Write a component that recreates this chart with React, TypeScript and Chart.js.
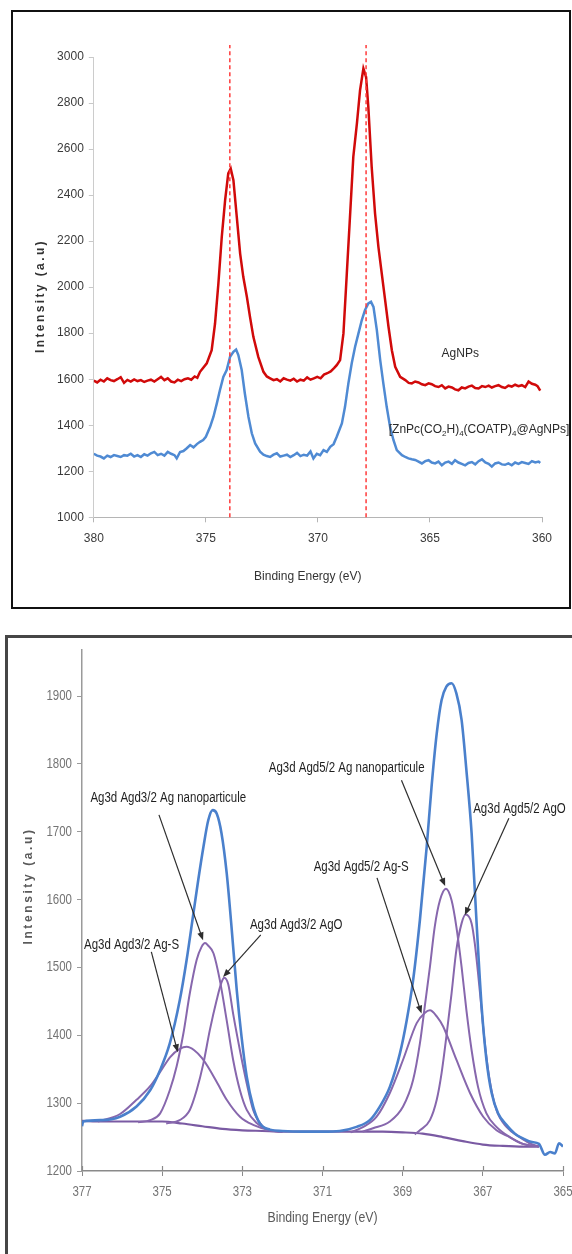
import React, { useEffect, useRef } from "react";
import { Chart, registerables } from "chart.js";

Chart.register(...registerables);

const FONT_TOP = "'Liberation Sans', Arial, sans-serif";
const FONT_BOT = "'Liberation Sans', Arial, sans-serif";
const NARROW = 0.82;

// ---------- Top panel: survey of Ag 3d region ----------
const topXTicks = [360, 365, 370, 375, 380];
const topYTicks = [1000, 1200, 1400, 1600, 1800, 2000, 2200, 2400, 2600, 2800, 3000];
const peakLines = [373.93, 367.85];

// [binding energy (eV), intensity (a.u)]
const agnpsSpectrum: [number, number][] = [
  [380.0, 1594], [379.85, 1586], [379.7, 1598], [379.55, 1590], [379.4, 1604], [379.25, 1596],
  [379.1, 1592], [378.95, 1600], [378.8, 1609], [378.65, 1584], [378.5, 1597], [378.35, 1590],
  [378.2, 1599], [378.05, 1592], [377.9, 1596], [377.75, 1588], [377.6, 1594], [377.45, 1598],
  [377.3, 1590], [377.15, 1600], [377.0, 1610], [376.85, 1596], [376.7, 1604], [376.55, 1590],
  [376.4, 1586], [376.25, 1598], [376.1, 1592], [375.95, 1600], [375.8, 1604], [375.65, 1598],
  [375.5, 1612], [375.38, 1606], [375.26, 1632], [374.96, 1669], [374.74, 1726], [374.59, 1842],
  [374.44, 2016], [374.29, 2218], [374.14, 2378], [374.0, 2494], [373.89, 2515], [373.77, 2465],
  [373.62, 2305], [373.47, 2146], [373.33, 2045], [373.17, 1958], [373.03, 1871], [372.88, 1784],
  [372.66, 1697], [372.43, 1632], [372.28, 1612], [372.13, 1604], [371.98, 1596], [371.83, 1600],
  [371.68, 1590], [371.53, 1604], [371.38, 1598], [371.23, 1594], [371.08, 1602], [370.93, 1590],
  [370.78, 1598], [370.63, 1594], [370.48, 1608], [370.33, 1598], [370.18, 1604], [370.03, 1610],
  [369.88, 1604], [369.73, 1620], [369.58, 1626], [369.43, 1634], [369.28, 1648], [369.16, 1661],
  [369.01, 1683], [368.86, 1799], [368.71, 2059], [368.56, 2320], [368.42, 2566], [368.26, 2711],
  [368.12, 2855], [367.97, 2950], [367.85, 2913], [367.75, 2783], [367.6, 2522], [367.45, 2320],
  [367.3, 2175], [367.15, 2059], [367.0, 1944], [366.85, 1828], [366.7, 1726], [366.55, 1654],
  [366.33, 1610], [366.1, 1596], [365.95, 1584], [365.81, 1582], [365.66, 1590], [365.51, 1586],
  [365.36, 1578], [365.21, 1574], [365.06, 1582], [364.92, 1578], [364.77, 1570], [364.62, 1566],
  [364.47, 1574], [364.32, 1560], [364.17, 1568], [364.02, 1564], [363.88, 1556], [363.73, 1552],
  [363.58, 1564], [363.43, 1560], [363.28, 1568], [363.13, 1572], [362.98, 1562], [362.83, 1560],
  [362.68, 1570], [362.53, 1566], [362.38, 1572], [362.24, 1564], [362.09, 1570], [361.94, 1574],
  [361.79, 1566], [361.65, 1562], [361.5, 1572], [361.35, 1568], [361.2, 1576], [361.05, 1570],
  [360.9, 1574], [360.75, 1566], [360.6, 1590], [360.45, 1580], [360.3, 1576], [360.2, 1570],
  [360.08, 1550],
];

const conjugateSpectrum: [number, number][] = [
  [380.0, 1276], [379.85, 1268], [379.7, 1264], [379.55, 1256], [379.4, 1268], [379.25, 1262],
  [379.1, 1270], [378.95, 1266], [378.8, 1262], [378.65, 1270], [378.5, 1268], [378.35, 1276],
  [378.2, 1264], [378.05, 1270], [377.9, 1262], [377.75, 1274], [377.6, 1268], [377.45, 1278],
  [377.3, 1284], [377.15, 1270], [377.0, 1276], [376.85, 1268], [376.7, 1284], [376.55, 1276],
  [376.4, 1270], [376.3, 1256], [376.15, 1284], [376.0, 1288], [375.85, 1300], [375.7, 1314],
  [375.55, 1304], [375.4, 1318], [375.26, 1328], [375.12, 1336], [375.0, 1350], [374.81, 1393],
  [374.66, 1437], [374.51, 1495], [374.37, 1553], [374.22, 1610], [374.07, 1640], [373.92, 1697],
  [373.77, 1719], [373.65, 1729], [373.55, 1705], [373.4, 1640], [373.26, 1538], [373.1, 1437],
  [372.95, 1365], [372.8, 1321], [372.58, 1285], [372.43, 1272], [372.28, 1266], [372.13, 1262],
  [371.98, 1272], [371.83, 1278], [371.68, 1264], [371.53, 1268], [371.38, 1272], [371.23, 1262],
  [371.08, 1270], [370.93, 1280], [370.78, 1266], [370.63, 1272], [370.48, 1268], [370.33, 1286],
  [370.2, 1256], [370.05, 1276], [369.9, 1270], [369.75, 1292], [369.6, 1284], [369.45, 1306],
  [369.3, 1318], [369.16, 1350], [368.93, 1408], [368.79, 1480], [368.64, 1582], [368.49, 1669],
  [368.34, 1741], [368.19, 1799], [368.04, 1857], [367.9, 1900], [367.75, 1929], [367.63, 1936],
  [367.52, 1914], [367.37, 1813], [367.22, 1683], [367.08, 1582], [366.93, 1480], [366.78, 1393],
  [366.63, 1336], [366.48, 1292], [366.25, 1270], [366.1, 1262], [365.96, 1256], [365.81, 1252],
  [365.66, 1249], [365.51, 1242], [365.36, 1234], [365.21, 1244], [365.06, 1248], [364.92, 1238],
  [364.77, 1234], [364.62, 1242], [364.47, 1226], [364.32, 1238], [364.17, 1242], [364.02, 1232],
  [363.88, 1248], [363.73, 1238], [363.58, 1232], [363.43, 1226], [363.28, 1236], [363.13, 1240],
  [362.98, 1230], [362.83, 1244], [362.68, 1252], [362.53, 1238], [362.38, 1232], [362.24, 1220],
  [362.09, 1234], [361.94, 1238], [361.79, 1230], [361.65, 1228], [361.5, 1234], [361.35, 1226],
  [361.2, 1238], [361.05, 1232], [360.9, 1240], [360.75, 1236], [360.6, 1232], [360.45, 1244],
  [360.3, 1238], [360.15, 1242], [360.08, 1236],
];

const agnpsLabel = { text: "AgNPs", e: 364.48, i: 1712 };
const conjLabel = { e: 366.84, i: 1379 };
const conjLabelParts = [
  { t: "[ZnPc(CO", sub: false },
  { t: "2", sub: true },
  { t: "H)", sub: false },
  { t: "4", sub: true },
  { t: "(COATP)", sub: false },
  { t: "4", sub: true },
  { t: "@AgNPs]", sub: false },
];

// ---------- Bottom panel: deconvoluted Ag 3d ----------
const botXTicks = [365, 367, 369, 371, 373, 375, 377];
const botYTicks = [1200, 1300, 1400, 1500, 1600, 1700, 1800, 1900];

const envelope: [number, number][] = [
  [377.0, 1266], [376.97, 1273], [376.5, 1275], [376.05, 1280], [375.64, 1295], [375.3, 1319],
  [375.05, 1349], [374.81, 1388], [374.56, 1452], [374.39, 1511], [374.22, 1580], [374.1, 1629],
  [373.97, 1678], [373.85, 1717], [373.74, 1732], [373.64, 1727], [373.52, 1698], [373.39, 1639],
  [373.27, 1560], [373.14, 1467], [373.02, 1398], [372.89, 1339], [372.73, 1295], [372.56, 1270],
  [372.31, 1261], [372.0, 1259], [371.5, 1258], [371.0, 1258], [370.57, 1259], [370.15, 1265],
  [369.82, 1275], [369.57, 1295], [369.32, 1324], [369.07, 1373], [368.9, 1422], [368.74, 1481],
  [368.57, 1570], [368.4, 1678], [368.28, 1766], [368.15, 1845], [368.03, 1894], [367.91, 1914],
  [367.78, 1919], [367.66, 1904], [367.53, 1865], [367.41, 1791], [367.28, 1698], [367.16, 1570],
  [367.03, 1442], [366.91, 1364], [366.78, 1315], [366.62, 1285], [366.41, 1268], [366.2, 1255],
  [366.0, 1248], [365.8, 1243], [365.6, 1240], [365.45, 1224], [365.32, 1228], [365.2, 1226],
  [365.1, 1241], [365.0, 1236],
];

const agS32: [number, number][] = [
  [376.6, 1273], [376.05, 1284], [375.64, 1305], [375.3, 1325], [375.05, 1346], [374.8, 1368],
  [374.56, 1380], [374.39, 1383], [374.2, 1378], [374.0, 1366], [373.81, 1349], [373.6, 1327],
  [373.39, 1305], [373.06, 1280], [372.73, 1268], [372.31, 1260], [372.0, 1258],
];
const agNano32: [number, number][] = [
  [375.6, 1272], [375.3, 1275], [375.05, 1285], [374.81, 1319], [374.64, 1354], [374.47, 1403],
  [374.31, 1462], [374.14, 1511], [374.02, 1530], [373.93, 1536], [373.85, 1532], [373.72, 1521],
  [373.56, 1481], [373.39, 1422], [373.23, 1364], [373.06, 1319], [372.89, 1290], [372.65, 1271],
  [372.3, 1260], [372.0, 1258],
];
const agO32: [number, number][] = [
  [374.9, 1270], [374.56, 1275], [374.31, 1290], [374.14, 1319], [373.97, 1359], [373.81, 1408],
  [373.64, 1452], [373.52, 1478], [373.45, 1485], [373.35, 1475], [373.23, 1432], [373.06, 1378],
  [372.89, 1329], [372.73, 1290], [372.48, 1265], [372.2, 1259], [372.0, 1258],
];
const agS52: [number, number][] = [
  [370.3, 1257], [369.98, 1265], [369.65, 1280], [369.32, 1315], [368.99, 1364], [368.65, 1418],
  [368.45, 1433], [368.32, 1437], [368.15, 1428], [367.99, 1413], [367.66, 1364], [367.32, 1315],
  [366.99, 1280], [366.66, 1260], [366.33, 1250], [366.0, 1240], [365.6, 1236],
];
const agNano52: [number, number][] = [
  [370.0, 1258], [369.74, 1263], [369.32, 1273], [368.99, 1295], [368.74, 1334], [368.57, 1388],
  [368.45, 1442], [368.32, 1501], [368.2, 1560], [368.07, 1599], [367.92, 1616], [367.78, 1599],
  [367.66, 1560], [367.53, 1501], [367.41, 1437], [367.28, 1378], [367.12, 1324], [366.91, 1285],
  [366.66, 1265], [366.33, 1250], [366.0, 1240], [365.6, 1236],
];
const agO52: [number, number][] = [
  [368.7, 1254], [368.57, 1260], [368.32, 1275], [368.15, 1305], [368.03, 1344], [367.91, 1398],
  [367.78, 1462], [367.66, 1526], [367.53, 1565], [367.43, 1578], [367.28, 1565], [367.2, 1535],
  [367.07, 1462], [366.95, 1388], [366.83, 1334], [366.66, 1290], [366.41, 1265], [366.08, 1250],
  [365.8, 1240], [365.6, 1236],
];
const background: [number, number][] = [
  [377.0, 1274], [376.5, 1273], [376.0, 1273], [375.5, 1273], [375.0, 1273], [374.5, 1270],
  [374.0, 1266], [373.5, 1262], [373.0, 1260], [372.5, 1259], [372.0, 1258], [371.0, 1258],
  [370.0, 1258], [369.5, 1258], [369.0, 1257], [368.5, 1255], [368.0, 1250], [367.5, 1244],
  [367.0, 1239], [366.5, 1237], [366.0, 1236], [365.6, 1236],
];

const fitLabels = [
  { text: "Ag3d Agd3/2 Ag nanoparticule", e: 376.79, i: 1750 },
  { text: "Ag3d Agd5/2 Ag nanoparticule", e: 372.34, i: 1794 },
  { text: "Ag3d Agd5/2 AgO", e: 367.24, i: 1734 },
  { text: "Ag3d Agd5/2 Ag-S", e: 371.22, i: 1648 },
  { text: "Ag3d Agd3/2 AgO", e: 372.81, i: 1562 },
  { text: "Ag3d Agd3/2 Ag-S", e: 376.95, i: 1533 },
];
const fitArrows = [
  { from: [375.08, 1725], to: [373.98, 1540] },
  { from: [372.54, 1548], to: [373.48, 1486] },
  { from: [375.27, 1523], to: [374.61, 1375] },
  { from: [369.03, 1776], to: [367.94, 1620] },
  { from: [366.35, 1720], to: [367.45, 1577] },
  { from: [369.64, 1632], to: [368.53, 1432] },
];

const toXY = (arr: [number, number][]) => arr.map(([x, y]) => ({ x, y }));

function narrowText(ctx: any, text: string, x: number, y: number, align: string) {
  ctx.save();
  ctx.translate(x, y);
  ctx.scale(NARROW, 1);
  ctx.textAlign = align;
  ctx.fillText(text, 0, 0);
  ctx.restore();
}

const topTextPlugin = {
  id: "topText",
  afterDatasetsDraw(chart: any) {
    const { ctx, chartArea } = chart;
    const xs = chart.scales.x;
    const ys = chart.scales.y;
    ctx.save();
    ctx.fillStyle = "#2a2a2a";
    ctx.textBaseline = "middle";
    ctx.textAlign = "left";
    ctx.font = `12px ${FONT_TOP}`;
    ctx.fillText(agnpsLabel.text, xs.getPixelForValue(agnpsLabel.e), ys.getPixelForValue(agnpsLabel.i));
    let px = xs.getPixelForValue(conjLabel.e);
    const py = ys.getPixelForValue(conjLabel.i);
    for (const seg of conjLabelParts) {
      ctx.font = seg.sub ? `8px ${FONT_TOP}` : `12px ${FONT_TOP}`;
      ctx.fillText(seg.t, px, seg.sub ? py + 4 : py);
      px += ctx.measureText(seg.t).width;
    }
    ctx.font = `12px ${FONT_TOP}`;
    ctx.textAlign = "center";
    ctx.fillStyle = "#333";
    ctx.fillText("Binding Energy (eV)", chartArea.left + 214, chartArea.bottom + 59);
    ctx.translate(chartArea.left - 53, chartArea.top + 239);
    ctx.rotate(-Math.PI / 2);
    ctx.font = `bold 12px ${FONT_TOP}`;
    ctx.letterSpacing = "2.4px";
    ctx.fillText("Intensity (a.u)", 0, 0);
    ctx.restore();
  },
};

const botTextPlugin = {
  id: "botText",
  afterDatasetsDraw(chart: any) {
    const { ctx, chartArea } = chart;
    const xs = chart.scales.x;
    const ys = chart.scales.y;
    ctx.save();
    // tick marks crossing the x axis (inner half)
    ctx.strokeStyle = "#8a8a8a";
    ctx.lineWidth = 1.2;
    for (const t of xs.ticks) {
      const xp = Math.round(xs.getPixelForValue(t.value)) + 0.5;
      ctx.beginPath();
      ctx.moveTo(xp, chartArea.bottom);
      ctx.lineTo(xp, chartArea.bottom - 5);
      ctx.stroke();
    }
    // tick labels (condensed face)
    ctx.fillStyle = "#747474";
    ctx.textBaseline = "middle";
    ctx.font = `14px ${FONT_BOT}`;
    for (const t of xs.ticks) {
      narrowText(ctx, String(t.value), xs.getPixelForValue(t.value), chartArea.bottom + 21, "center");
    }
    for (const t of ys.ticks) {
      narrowText(ctx, String(t.value), chartArea.left - 10, ys.getPixelForValue(t.value), "right");
    }
    // arrows
    ctx.strokeStyle = "#2e2e2e";
    ctx.fillStyle = "#2e2e2e";
    ctx.lineWidth = 1.2;
    for (const a of fitArrows) {
      const x1 = xs.getPixelForValue(a.from[0]);
      const y1 = ys.getPixelForValue(a.from[1]);
      const x2 = xs.getPixelForValue(a.to[0]);
      const y2 = ys.getPixelForValue(a.to[1]);
      const ang = Math.atan2(y2 - y1, x2 - x1);
      const hl = 8;
      const hw = 3.2;
      ctx.beginPath();
      ctx.moveTo(x1, y1);
      ctx.lineTo(x2 - Math.cos(ang) * hl * 0.8, y2 - Math.sin(ang) * hl * 0.8);
      ctx.stroke();
      ctx.beginPath();
      ctx.moveTo(x2, y2);
      ctx.lineTo(x2 - Math.cos(ang) * hl - Math.sin(ang) * hw, y2 - Math.sin(ang) * hl + Math.cos(ang) * hw);
      ctx.lineTo(x2 - Math.cos(ang) * hl + Math.sin(ang) * hw, y2 - Math.sin(ang) * hl - Math.cos(ang) * hw);
      ctx.closePath();
      ctx.fill();
    }
    // annotation labels
    ctx.fillStyle = "#1f1f1f";
    ctx.font = `14px ${FONT_BOT}`;
    for (const l of fitLabels) {
      narrowText(ctx, l.text, xs.getPixelForValue(l.e), ys.getPixelForValue(l.i), "left");
    }
    // axis titles
    ctx.fillStyle = "#5a5a5a";
    ctx.font = `15px ${FONT_BOT}`;
    narrowText(ctx, "Binding Energy (eV)", (chartArea.left + chartArea.right) / 2, chartArea.bottom + 47, "center");
    ctx.translate(chartArea.left - 53, chartArea.top + 236);
    ctx.rotate(-Math.PI / 2);
    ctx.textAlign = "center";
    ctx.font = `bold 12px ${FONT_TOP}`;
    ctx.letterSpacing = "2.6px";
    ctx.fillText("Intensity (a.u)", 0, 0);
    ctx.restore();
  },
};

function makeTicks(values: number[]) {
  return (s: any) => {
    s.ticks = values.map((v) => ({ value: v }));
  };
}

export default function App() {
  const topRef = useRef<HTMLCanvasElement>(null);
  const botRef = useRef<HTMLCanvasElement>(null);

  useEffect(() => {
    const topChart = new Chart(topRef.current as HTMLCanvasElement, {
      type: "line",
      data: {
        datasets: [
          ...peakLines.map((e) => ({
            label: `peak ${e}`,
            data: [{ x: e, y: 1000 }, { x: e, y: 3052 }],
            borderColor: "#ff3b3b",
            borderWidth: 1.5,
            borderDash: [4, 3],
            pointRadius: 0,
            clip: false as any,
            order: 0,
          })),
          {
            label: "AgNPs",
            data: toXY(agnpsSpectrum),
            borderColor: "#d10a0a",
            borderWidth: 2.5,
            pointRadius: 0,
            tension: 0,
            order: 2,
          },
          {
            label: "[ZnPc(CO2H)4(COATP)4@AgNPs]",
            data: toXY(conjugateSpectrum),
            borderColor: "#4f8ad3",
            borderWidth: 2.5,
            pointRadius: 0,
            tension: 0,
            order: 1,
          },
        ],
      },
      options: {
        responsive: false,
        animation: false,
        events: [],
        layout: { padding: { top: 57, right: 30, bottom: 0, left: 0 } },
        plugins: { legend: { display: false }, tooltip: { enabled: false } },
        scales: {
          x: {
            type: "linear",
            reverse: true,
            min: 360,
            max: 380,
            afterBuildTicks: makeTicks(topXTicks),
            afterFit: (s: any) => {
              s.height = 102.7;
            },
            ticks: {
              color: "#3a3a3a",
              font: { family: FONT_TOP, size: 12 },
              padding: 9,
              maxRotation: 0,
              autoSkip: false,
              callback: (v: any) => String(v),
            },
            grid: { drawOnChartArea: false, drawTicks: true, tickLength: 5, color: "#b5b5b5" },
            border: { display: true, color: "#b5b5b5", width: 1 },
          },
          y: {
            type: "linear",
            min: 1000,
            max: 3000,
            afterBuildTicks: makeTicks(topYTicks),
            afterFit: (s: any) => {
              s.width = 93.8;
            },
            ticks: {
              color: "#3a3a3a",
              font: { family: FONT_TOP, size: 12 },
              padding: 5,
              callback: (v: any) => String(v),
            },
            grid: { drawOnChartArea: false, drawTicks: true, tickLength: 5, color: "#c8c8c8" },
            border: { display: true, color: "#cccccc", width: 1 },
          },
        },
      },
      plugins: [topTextPlugin],
    } as any);

    const purple = "#8767ad";
    const comp = (label: string, arr: [number, number][]) => ({
      label,
      data: toXY(arr),
      borderColor: purple,
      borderWidth: 2,
      pointRadius: 0,
      cubicInterpolationMode: "monotone" as const,
      order: 2,
    });

    const botChart = new Chart(botRef.current as HTMLCanvasElement, {
      type: "line",
      data: {
        datasets: [
          {
            label: "Envelope",
            data: toXY(envelope),
            borderColor: "#4a80cc",
            borderWidth: 2.6,
            pointRadius: 0,
            cubicInterpolationMode: "monotone",
            order: 0,
          },
          comp("Ag3d Agd3/2 Ag-S", agS32),
          comp("Ag3d Agd3/2 Ag nanoparticule", agNano32),
          comp("Ag3d Agd3/2 AgO", agO32),
          comp("Ag3d Agd5/2 Ag-S", agS52),
          comp("Ag3d Agd5/2 Ag nanoparticule", agNano52),
          comp("Ag3d Agd5/2 AgO", agO52),
          { ...comp("Background", background), borderColor: "#7a5aa3", borderWidth: 2.2 },
        ],
      },
      options: {
        responsive: false,
        animation: false,
        events: [],
        layout: { padding: { top: 30, right: 37, bottom: 0, left: 0 } },
        plugins: { legend: { display: false }, tooltip: { enabled: false } },
        scales: {
          x: {
            type: "linear",
            reverse: true,
            min: 365,
            max: 377,
            afterBuildTicks: makeTicks(botXTicks),
            afterFit: (s: any) => {
              s.height = 83;
            },
            ticks: { display: false },
            grid: { drawOnChartArea: false, drawTicks: true, tickLength: 5, color: "#8a8a8a" },
            border: { display: true, color: "#8a8a8a", width: 1.5 },
          },
          y: {
            type: "linear",
            min: 1200,
            max: 1968,
            afterBuildTicks: makeTicks(botYTicks),
            afterFit: (s: any) => {
              s.width = 82;
            },
            ticks: { display: false },
            grid: { drawOnChartArea: false, drawTicks: true, tickLength: 5, color: "#9a9a9a" },
            border: { display: true, color: "#9a9a9a", width: 1.5 },
          },
        },
      },
      plugins: [botTextPlugin],
    } as any);

    return () => {
      topChart.destroy();
      botChart.destroy();
    };
  }, []);

  return (
    <div
      style={{
        position: "absolute",
        left: 0,
        top: 0,
        width: 572,
        height: 1254,
        overflow: "hidden",
        background: "#ffffff",
      }}
    >
      <div
        style={{
          position: "absolute",
          left: 11,
          top: 10,
          width: 560,
          height: 599,
          border: "2px solid #111111",
          boxSizing: "border-box",
        }}
      />
      <div
        style={{
          position: "absolute",
          left: 5,
          top: 635,
          width: 640,
          height: 700,
          border: "3px solid #464646",
          boxSizing: "border-box",
        }}
      />
      <canvas
        ref={topRef}
        width={572}
        height={620}
        style={{ position: "absolute", left: 0, top: 0, width: 572, height: 620 }}
      />
      <canvas
        ref={botRef}
        width={600}
        height={634}
        style={{ position: "absolute", left: 0, top: 620, width: 600, height: 634 }}
      />
    </div>
  );
}
